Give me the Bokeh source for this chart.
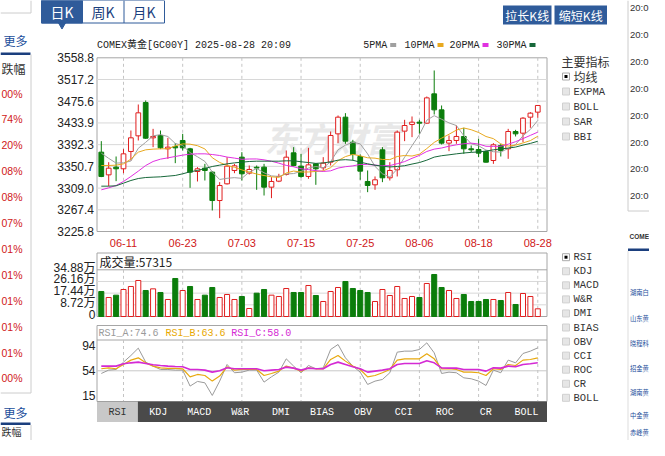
from bokeh.plotting import figure
from bokeh.models import Range1d, ColumnDataSource
from bokeh.core.properties import value
from bokeh.embed import file_html
from bokeh.resources import INLINE

# ---------------- data ----------------
dates = ["06-06", "06-09", "06-10", "06-11", "06-12", "06-13", "06-16", "06-17", "06-18", "06-19",
         "06-20", "06-23", "06-24", "06-25", "06-26", "06-27", "06-30", "07-01", "07-02", "07-03",
         "07-04", "07-07", "07-08", "07-09", "07-10", "07-11", "07-14", "07-15", "07-16", "07-17",
         "07-18", "07-21", "07-22", "07-23", "07-24", "07-25", "07-28", "07-29", "07-30", "07-31",
         "08-01", "08-04", "08-05", "08-06", "08-07", "08-08", "08-11", "08-12", "08-13", "08-14",
         "08-15", "08-18", "08-19", "08-20", "08-21", "08-22", "08-25", "08-26", "08-27", "08-28"]
opens = [3377.9, 3334.4, 3349.2, 3346.0, 3379.2, 3409.2, 3473.1, 3405.4, 3409.9, 3384.3,
         3388.8, 3400.3, 3384.3, 3340.8, 3347.2, 3339.6, 3285.2, 3317.2, 3342.8, 3368.3,
         3337.6, 3349.0, 3349.2, 3310.8, 3322.3, 3335.1, 3376.6, 3351.1, 3331.3, 3355.5,
         3347.9, 3358.7, 3413.0, 3445.0, 3397.1, 3369.6, 3321.7, 3315.3, 3382.4, 3328.7,
         3344.1, 3418.2, 3431.0, 3435.4, 3433.5, 3489.7, 3459.0, 3395.2, 3400.3, 3408.0,
         3384.3, 3383.0, 3379.2, 3361.9, 3390.7, 3384.3, 3417.5, 3414.3, 3445.0, 3454.6]
highs = [3399.0, 3358.7, 3369.6, 3383.7, 3419.4, 3469.3, 3477.0, 3422.6, 3419.4, 3405.4,
         3395.2, 3413.0, 3386.2, 3349.2, 3355.5, 3341.5, 3320.4, 3368.3, 3355.5, 3377.9,
         3352.3, 3352.3, 3355.5, 3330.0, 3336.4, 3381.1, 3387.5, 3374.7, 3386.2, 3356.8,
         3368.3, 3417.5, 3448.2, 3452.7, 3401.5, 3373.4, 3342.8, 3331.3, 3387.5, 3358.7,
         3419.4, 3439.9, 3446.3, 3439.9, 3484.6, 3534.5, 3467.4, 3409.9, 3429.0, 3424.6,
         3390.7, 3403.5, 3381.1, 3395.2, 3393.9, 3422.6, 3420.7, 3445.0, 3454.6, 3467.4]
lows = [3330.0, 3312.7, 3322.3, 3337.6, 3361.9, 3400.3, 3403.5, 3387.5, 3383.7, 3365.1,
        3356.8, 3381.1, 3309.5, 3321.7, 3323.6, 3266.1, 3251.4, 3315.9, 3337.6, 3323.6,
        3335.1, 3305.7, 3294.8, 3289.7, 3320.4, 3333.2, 3350.4, 3328.7, 3326.8, 3315.3,
        3342.8, 3352.3, 3395.2, 3393.9, 3361.9, 3324.9, 3301.2, 3305.7, 3320.4, 3323.6,
        3331.3, 3399.0, 3406.7, 3413.0, 3432.2, 3450.1, 3392.6, 3379.8, 3393.9, 3374.7,
        3377.9, 3368.3, 3358.1, 3355.5, 3369.6, 3365.1, 3408.0, 3397.1, 3424.6, 3443.7]
closes = [3331.3, 3347.2, 3346.0, 3374.7, 3405.4, 3453.3, 3404.7, 3408.0, 3386.2, 3387.5,
          3386.2, 3386.2, 3339.6, 3346.0, 3342.8, 3285.2, 3314.0, 3351.1, 3351.7, 3336.4,
          3344.7, 3347.5, 3310.8, 3321.7, 3331.3, 3368.3, 3352.3, 3331.3, 3353.6, 3346.0,
          3356.8, 3409.9, 3445.0, 3399.0, 3373.4, 3341.5, 3314.0, 3324.9, 3328.7, 3342.8,
          3416.3, 3429.0, 3435.4, 3433.5, 3482.0, 3459.0, 3395.2, 3400.3, 3408.0, 3384.3,
          3382.4, 3376.0, 3358.7, 3392.0, 3381.1, 3417.5, 3413.0, 3443.1, 3452.7, 3467.4]
ma5 = [3376.0, 3366.0, 3357.0, 3357.5, 3360.9, 3385.3, 3396.8, 3409.2, 3411.5, 3407.9,
       3394.5, 3390.8, 3377.1, 3369.1, 3360.2, 3340.0, 3325.5, 3327.8, 3329.0, 3327.7,
       3339.6, 3346.5, 3338.4, 3332.4, 3331.4, 3336.1, 3336.9, 3341.0, 3347.4, 3350.3,
       3348.0, 3359.5, 3382.3, 3391.3, 3396.8, 3393.8, 3374.6, 3350.6, 3336.5, 3330.4,
       3345.3, 3368.3, 3390.4, 3411.4, 3439.2, 3447.8, 3441.0, 3434.0, 3428.9, 3409.4,
       3394.0, 3390.2, 3381.9, 3378.7, 3378.0, 3385.1, 3392.5, 3409.3, 3421.5, 3438.7]
ma10 = [3352.3, 3352.3, 3353.0, 3355.5, 3364.5, 3377.9, 3382.4, 3383.7, 3384.3, 3384.4,
        3389.9, 3393.8, 3393.2, 3390.3, 3384.1, 3367.2, 3358.2, 3352.5, 3349.0, 3343.9,
        3339.8, 3336.0, 3333.1, 3330.7, 3329.5, 3337.9, 3341.7, 3339.7, 3339.9, 3340.9,
        3342.1, 3348.2, 3361.6, 3369.4, 3373.6, 3370.9, 3367.1, 3366.4, 3363.9, 3363.6,
        3369.6, 3371.5, 3370.5, 3374.0, 3384.8, 3396.6, 3404.7, 3412.2, 3420.2, 3424.3,
        3420.9, 3415.6, 3407.9, 3403.8, 3393.7, 3389.6, 3391.3, 3395.6, 3400.1, 3408.4]
ma20 = [3305.7, 3309.5, 3314.0, 3321.7, 3331.3, 3341.5, 3352.3, 3360.0, 3364.5, 3367.0,
        3369.6, 3372.2, 3374.1, 3374.7, 3374.7, 3373.4, 3371.5, 3368.5, 3366.5, 3364.2,
        3364.8, 3364.9, 3363.2, 3360.5, 3356.8, 3352.5, 3349.9, 3346.1, 3344.5, 3342.4,
        3340.9, 3342.1, 3347.4, 3350.0, 3351.6, 3354.4, 3354.4, 3353.1, 3351.9, 3352.2,
        3355.8, 3359.8, 3366.1, 3371.7, 3379.2, 3383.7, 3385.9, 3389.3, 3392.0, 3394.0,
        3395.2, 3393.5, 3389.2, 3388.9, 3389.3, 3393.1, 3398.0, 3403.9, 3410.1, 3416.3]
ma30 = [3312.7, 3312.7, 3313.4, 3318.5, 3323.6, 3327.4, 3329.3, 3330.0, 3330.6, 3331.9,
        3333.2, 3336.4, 3340.2, 3342.8, 3346.6, 3350.4, 3353.0, 3355.5, 3357.4, 3358.7,
        3360.0, 3360.6, 3360.6, 3360.6, 3360.6, 3361.3, 3361.3, 3359.5, 3358.0, 3356.4,
        3357.3, 3359.3, 3362.6, 3363.5, 3362.4, 3358.7, 3355.6, 3352.9, 3350.9, 3349.5,
        3350.5, 3351.9, 3355.1, 3358.0, 3362.6, 3368.4, 3371.1, 3372.8, 3374.7, 3376.3,
        3377.5, 3378.4, 3380.0, 3382.4, 3384.0, 3385.7, 3387.7, 3391.4, 3394.7, 3398.8]
volumes = [186750, 141930, 159360, 201690, 224100, 268920, 194220, 206670, 179280, 126990,
           283860, 194220, 224100, 126990, 159360, 216630, 141930, 164340, 126990, 149400,
           59760, 174300, 201690, 159360, 149400, 209160, 179280, 179280, 231570, 156870,
           112050, 186750, 216630, 261450, 209160, 194220, 179280, 112050, 201690, 156870,
           224100, 134460, 149400, 141930, 246510, 313740, 216630, 194220, 134460, 164340,
           112050, 112050, 126990, 126990, 119520, 179280, 89640, 171810, 149400, 57315]
vol_up = [0, 1, 0, 1, 1, 1, 0, 1, 0, 1, 0, 1, 0, 1, 0, 0, 1, 1, 1, 0,
          1, 0, 0, 1, 1, 1, 0, 0, 1, 0, 1, 1, 1, 0, 0, 0, 0, 1, 1, 1,
          1, 1, 1, 0, 1, 0, 0, 1, 1, 0, 0, 0, 0, 1, 0, 1, 0, 1, 1, 1]
rsi_a = [49.8, 55.1, 56.1, 67.7, 78.2, 89.8, 67.7, 61.4, 56.1, 56.1,
         55.1, 55.1, 29.8, 37.2, 35.0, 15.0, 37.7, 64.0, 50.9, 51.9,
         55.1, 55.1, 36.1, 44.5, 51.9, 72.9, 61.4, 50.9, 62.4, 57.2,
         58.7, 87.7, 95.6, 74.5, 61.4, 51.9, 32.4, 37.7, 40.3, 50.9,
         83.5, 85.1, 85.1, 87.7, 98.2, 82.4, 49.8, 51.9, 50.9, 42.9,
         41.4, 37.7, 30.8, 55.1, 50.9, 70.9, 66.6, 81.4, 85.1, 90.3]
rsi_b = [57.2, 58.7, 57.2, 64.0, 70.9, 74.5, 66.6, 61.4, 58.7, 57.7,
         57.7, 57.2, 44.5, 48.2, 46.6, 37.7, 45.6, 60.3, 55.1, 56.1,
         56.1, 56.1, 46.6, 49.8, 53.5, 61.4, 58.2, 53.5, 58.7, 57.2,
         57.2, 71.9, 78.2, 69.3, 61.4, 56.1, 44.5, 46.6, 50.9, 56.1,
         70.9, 72.9, 72.9, 72.9, 80.9, 72.9, 57.2, 57.2, 56.1, 51.9,
         51.9, 50.9, 46.6, 57.2, 56.1, 64.0, 62.4, 70.9, 71.9, 74.5]
rsi_c = [61.4, 61.4, 61.4, 65.1, 66.6, 67.7, 65.6, 63.5, 62.4, 61.4,
         60.8, 60.3, 56.1, 56.1, 55.1, 51.9, 54.0, 58.7, 57.2, 57.2,
         57.2, 57.2, 54.0, 55.1, 56.1, 59.8, 58.2, 55.1, 58.2, 57.2,
         57.2, 64.0, 67.7, 64.0, 60.3, 57.2, 51.9, 53.5, 55.1, 57.2,
         64.0, 65.6, 65.6, 65.6, 69.8, 66.6, 58.7, 58.2, 58.2, 56.1,
         56.1, 56.1, 53.5, 58.7, 58.2, 61.4, 60.3, 64.0, 65.1, 66.6]

price_ticks = [3558.8, 3517.2, 3475.6, 3433.9, 3392.3, 3350.7, 3309.0, 3267.4, 3225.8]
price_tick_labels = ["3558.8", "3517.2", "3475.6", "3433.9", "3392.3", "3350.7", "3309.0", "3267.4", "3225.8"]
vol_ticks = [0, 87200, 174400, 261600, 348800]
vol_tick_labels = ["0", "8.72万", "17.44万", "26.16万", "34.88万"]
rsi_ticks = [94, 54, 15]
rsi_tick_labels = ["94", "54", "15"]
date_ticks = ["06-11", "06-23", "07-03", "07-15", "07-25", "08-06", "08-18", "08-28"]
title = "COMEX黄金[GC00Y] 2025-08-28 20:09"
volume_title = "成交量:57315"
rsi_titles = ["RSI_A:74.6", "RSI_B:63.6", "RSI_C:58.0"]
ma_names = ["5PMA", "10PMA", "20PMA", "30PMA"]
main_indicators = ["均线", "EXPMA", "BOLL", "SAR", "BBI"]
sub_indicators = ["RSI", "KDJ", "MACD", "W&R", "DMI", "BIAS", "OBV", "CCI", "ROC", "CR", "BOLL"]
period_tabs = ["日K", "周K", "月K"]
buttons = ["拉长K线", "缩短K线"]
left_pcts = ["00%", "74%", "20%", "08%", "08%", "07%", "01%", "01%", "01%", "01%", "01%", "00%"]
right_times = ["20:0"] * 8
right_list = ["湖南白", "山东黄", "晓程科", "招金黄", "湖南黄", "中金黄", "赤峰黄"]

# ---------------- styles ----------------
RED = "#e01e1e"
GREEN = "#0b7d0b"
MA_COLORS = ["#a0a0a0", "#e8a920", "#e030e0", "#17683a"]
RSI_COLORS = ["#9a9a9a", "#e8a90f", "#d42ad4"]
BLUE = "#2f5b9a"
DBLUE = "#1b3f7e"
LINK = "#1b4e9b"
FRAME = "#a6a6a6"
GRID = "#d8d8d8"
CJK = "Noto Sans CJK SC"
SANS = "Liberation Sans"
MONO = "Liberation Mono, Noto Sans CJK SC"

W, H = 649, 440
p = figure(width=W, height=H, x_range=Range1d(0, W), y_range=Range1d(H, 0),
           output_backend="svg", toolbar_location=None, min_border=0,
           x_axis_type=None, y_axis_type=None, outline_line_color=None,
           background_fill_color="white", border_fill_color="white")


def fit(va, pa, vb, pb, lo, hi):
    k = (pb - pa) / (vb - va)
    return Range1d(va + (lo - pa) / k, va + (hi - pa) / k)


L, R = 96.5, 546.5
P_TOP, P_BOT = 57.3, 231.0
p.extra_x_ranges = {"bar": fit(0, 100.8, 1, 108.198, 0, W)}
p.extra_y_ranges = {
    "price": fit(price_ticks[0], P_TOP, price_ticks[-1], P_BOT, H, 0),
    "vol": fit(0, 316.0, vol_ticks[-1], 269.3, H, 0),
    "rsi": fit(54, 370.3, 94, 345.0, H, 0),
}


def txt(x, y, s, size=12, color="#333333", font=CJK, align="left", baseline="middle",
        style="normal", xr="default", yr="default", yoff=0):
    xs = x if isinstance(x, list) else [x]
    ys = y if isinstance(y, list) else [y] * len(xs)
    ss = s if isinstance(s, list) else [s] * len(xs)
    if len(xs) == 1 and len(ys) > 1:
        xs = xs * len(ys)
    p.text(x=xs, y=ys, text=ss, text_font=value(font), text_font_size=f"{size}px",
           text_color=color, text_align=align, text_baseline=baseline,
           text_font_style=style, x_range_name=xr, y_range_name=yr, y_offset=yoff)


def box(l, r, t, b, fill="white", line=None, lw=1):
    p.quad(left=[l], right=[r], top=[t], bottom=[b], fill_color=fill,
           line_color=line, line_width=lw)


def hline(x0, x1, y, color, dash="solid", yr="default"):
    ys = y if isinstance(y, list) else [y]
    p.segment(x0=[x0] * len(ys), x1=[x1] * len(ys), y0=ys, y1=ys, line_color=color,
              line_dash=dash, y_range_name=yr)


def vline(x, y0, y1, color, dash="solid", xr="default"):
    xs = x if isinstance(x, list) else [x]
    p.segment(x0=xs, x1=xs, y0=[y0] * len(xs), y1=[y1] * len(xs), line_color=color,
              line_dash=dash, x_range_name=xr)


n = len(dates)
idx = list(range(n))
tick_idx = [dates.index(d) for d in date_ticks]

# ---------------- left page strip ----------------
vline(30.5, 0, 12.5, "#cccccc")
hline(0, 30.5, 12.5, "#cccccc")
txt(3, 40, "更多", 12, LINK)
box(0, 30, 52, 54.5, fill=DBLUE)
vline(30.5, 54, 392.5, "#cccccc")
hline(0, 30.5, 392.5, "#cccccc")
txt(1, 68, "跌幅", 12, "#333333")
txt(1, [93 + 25.9 * k for k in range(len(left_pcts))], left_pcts, 10.5, "#d01818", SANS)
txt(3, 412, "更多", 12, LINK)
box(0, 30, 422, 424.5, fill=DBLUE)
vline(30.5, 424.5, 440, "#cccccc")
txt(1, 430.5, "跌幅", 10, "#333333")

# ---------------- period tabs & buttons ----------------
box(41, 164, 0, 22.5, fill="white", line=BLUE)
box(41, 82, 0, 22.5, fill=BLUE, line=BLUE)
vline(123.5, 0, 22.5, BLUE)
p.scatter(x=[61.5], y=[24.5], marker="inverted_triangle", size=7, color=BLUE)
tab_cx = [61.5, 102.5, 143.5]
for k, t in enumerate(period_tabs):
    txt(tab_cx[k], 11.5, t, 14, "white" if k == 0 else DBLUE, align="center")
btn = [(502.5, 551), (554, 606.5)]
for (l, r), t in zip(btn, buttons):
    box(l, r, 5, 24, fill=BLUE)
    txt((l + r) / 2, 14.5, t, 12, "white", align="center")

# ---------------- right page strip (squeezed to fit the canvas) ----------------
RS = 627.5
vline(RS, 0, 210.5, "#cccccc")
hline(RS, W, 210.5, "#cccccc")
txt(629.5, [7 + 26.9 * k for k in range(len(right_times))], right_times, 9.5, "#333333", SANS)
txt(629, 236, "COME", 6.5, "#333333", "Liberation Sans", style="bold")
box(RS, W, 248, 250.5, fill=DBLUE)
vline(RS, 250.5, H, "#dddddd")
txt(629.5, [292, 318, 343, 368, 392, 415, 432], right_list, 6.3, LINK)

# ---------------- main chart header ----------------
txt(96.5, 44.5, title, 10, "#222222", MONO)
lx = [362.7, 404.0, 449.0, 496.0]
for k, name in enumerate(ma_names):
    txt(lx[k], 44.5, name, 10, "#222222", MONO)
    x0 = lx[k] + 6 * len(name) + 3
    box(x0, x0 + 6, 42.5, 46.5, fill=MA_COLORS[k])

# ---------------- price panel ----------------
box(L, R, P_TOP, P_BOT, fill="white", line=FRAME)
hline(L, R, price_ticks[1:-1], GRID, yr="price")
vline(tick_idx, P_TOP, P_BOT, "#c4c4c4", "3 3", xr="bar")
txt(264, 137, "东方财富", 34, "#e8e8e8", CJK, style="bold italic")
txt(93.5, price_ticks, price_tick_labels, 12, "#222222", SANS, align="right", yr="price")

cs = ColumnDataSource(dict(
    x=idx, h=highs, l=lows,
    top=[max(o, c) for o, c in zip(opens, closes)],
    bot=[min(o, c) for o, c in zip(opens, closes)],
    lc=[RED if c >= o else GREEN for o, c in zip(opens, closes)],
    fc=["white" if c >= o else GREEN for o, c in zip(opens, closes)],
))
p.segment(x0="x", x1="x", y0="l", y1="h", line_color="lc", source=cs,
          x_range_name="bar", y_range_name="price")
p.vbar(x="x", width=0.64, top="top", bottom="bot", fill_color="fc", line_color="lc",
       source=cs, x_range_name="bar", y_range_name="price")
for ma, col in zip([ma5, ma10, ma20, ma30], MA_COLORS):
    p.line(idx, ma, line_color=col, line_width=1, x_range_name="bar", y_range_name="price")
txt(tick_idx, 242.3, date_ticks, 11, "#d01818", SANS, align="center", xr="bar")

# ---------------- volume panel ----------------
box(L, R, 252.5, 316.0, fill="white", line=FRAME)
hline(L, R, vol_ticks[1:-1], GRID, yr="vol")
hline(L, R, vol_ticks[-1], FRAME, yr="vol")
vline(tick_idx, 269.3, 316.0, "#c4c4c4", "3 3", xr="bar")
vs = ColumnDataSource(dict(
    x=idx, v=volumes,
    lc=[RED if u else GREEN for u in vol_up],
    fc=["white" if u else GREEN for u in vol_up],
))
p.vbar(x="x", width=0.68, top="v", bottom=0, fill_color="fc", line_color="lc", source=vs,
       x_range_name="bar", y_range_name="vol")
txt(95, vol_ticks, vol_tick_labels, 12, "#222222", "Liberation Sans, Noto Sans CJK SC",
    align="right", yr="vol", yoff=-2)
txt(99, 261, volume_title, 12, "#222222", CJK)

# ---------------- RSI panel ----------------
box(L, R, 325.0, 401.0, fill="white", line=FRAME)
hline(L, R, 339.5, FRAME)
hline(L, R, 54, "#c8c8c8", yr="rsi")
vline(tick_idx, 339.5, 401.0, "#c4c4c4", "3 3", xr="bar")
for vals, col, lw in zip([rsi_a, rsi_b, rsi_c], RSI_COLORS, [1, 1.2, 1.6]):
    p.line(idx, vals, line_color=col, line_width=lw, x_range_name="bar", y_range_name="rsi")
txt(95, rsi_ticks, rsi_tick_labels, 12, "#222222", SANS, align="right", yr="rsi")
for k, (t, col) in enumerate(zip(rsi_titles, ["#9a9a9a", "#e8a800", "#d42ad4"])):
    txt([98, 165, 230.7][k], 332.5, t, 10, col, MONO)

tw = (R - L) / len(sub_indicators)
box(L, R, 401.0, 421.5, fill="#4a4a4a")
box(L, L + tw, 401.0, 421.5, fill="#c8c8c8")
txt([L + tw * (k + 0.5) for k in range(1, len(sub_indicators))], 411.5, sub_indicators[1:], 10,
    "white", MONO, align="center")
txt(L + tw * 0.5, 411.5, sub_indicators[0], 10, "#333333", MONO, align="center")

# ---------------- indicator selectors ----------------
txt(561, 61, "主要指标", 12, "#333333", CJK)


def checkbox(y, checked):
    box(562, 569, y - 3.5, y + 3.5, fill="white" if checked else "#e6e6e6",
        line="#aaaaaa" if checked else "#d0d0d0")
    if checked:
        box(564, 567, y - 1.5, y + 1.5, fill="black")


for k, name in enumerate(main_indicators):
    y = 76 + 15.0 * k
    checkbox(y, k == 0)
    txt(573, y, name, 12 if k == 0 else 10.5, "#333333", CJK if k == 0 else MONO)
for k, name in enumerate(sub_indicators):
    y = 256.7 + 14.06 * k
    checkbox(y, k == 0)
    txt(573, y, name, 10.5, "#333333", MONO)

open("out.html", "w").write(file_html(p, INLINE))
